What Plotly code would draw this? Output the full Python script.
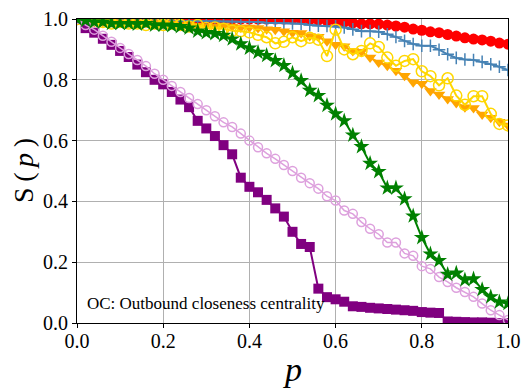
import plotly.graph_objects as go

# fração de nós removidos
p = [0.0, 0.02, 0.04, 0.06, 0.08, 0.10, 0.12, 0.14, 0.16, 0.18,
     0.20, 0.22, 0.24, 0.26, 0.28, 0.30, 0.32, 0.34, 0.36, 0.38,
     0.40, 0.42, 0.44, 0.46, 0.48, 0.50, 0.52, 0.54, 0.56, 0.58,
     0.60, 0.62, 0.64, 0.66, 0.68, 0.70, 0.72, 0.74, 0.76, 0.78,
     0.80, 0.82, 0.84, 0.86, 0.88, 0.90, 0.92, 0.94, 0.96, 0.98, 1.0]

s_red = [1.0, 1.0, 1.0, 1.0, 1.0, 1.0, 1.0, 1.0, 1.0, 1.0,
         1.0, 1.0, 1.0, 1.0, 1.0, 1.0, 1.0, 1.0, 1.0, 1.0,
         1.0, 1.0, 1.0, 1.0, 1.0, 1.0, 0.999, 0.998, 0.996, 0.995,
         0.993, 0.99, 0.987, 0.984, 0.984, 0.983, 0.98, 0.977, 0.973, 0.967,
         0.963, 0.958, 0.955, 0.949, 0.944, 0.938, 0.934, 0.931, 0.927, 0.921, 0.917]

s_blue = [1.0, 0.998, 0.997, 0.997, 0.996, 0.996, 0.996, 0.995, 0.995, 0.995,
          0.995, 0.995, 0.994, 0.994, 0.993, 0.993, 0.993, 0.992, 0.992, 0.991,
          0.991, 0.99, 0.988, 0.986, 0.986, 0.985, 0.984, 0.98, 0.978, 0.977,
          0.976, 0.972, 0.966, 0.96, 0.96, 0.958, 0.95, 0.941, 0.928, 0.918,
          0.912, 0.912, 0.899, 0.884, 0.872, 0.867, 0.865, 0.859, 0.851, 0.843, 0.832]

s_orange = [1.0, 0.992, 0.99, 0.99, 0.989, 0.989, 0.988, 0.988, 0.987, 0.987,
            0.986, 0.985, 0.98, 0.98, 0.978, 0.975, 0.975, 0.977, 0.975, 0.972,
            0.972, 0.97, 0.966, 0.965, 0.96, 0.955, 0.954, 0.944, 0.942, 0.927,
            0.915, 0.91, 0.895, 0.892, 0.873, 0.857, 0.846, 0.83, 0.813, 0.792,
            0.787, 0.763, 0.752, 0.737, 0.724, 0.71, 0.707, 0.686, 0.675, 0.662, 0.65]

s_gold = [1.0, 0.99, 0.985, 0.99, 0.985, 0.99, 0.985, 0.985, 0.98, 0.985,
          0.98, 0.985, 0.98, 0.975, 0.98, 0.97, 0.972, 0.968, 0.961, 0.96,
          0.956, 0.948, 0.94, 0.92, 0.925, 0.94, 0.927, 0.938, 0.932, 0.878,
          0.965, 0.90, 0.884, 0.895, 0.92, 0.908, 0.873, 0.846, 0.862, 0.868,
          0.828, 0.812, 0.782, 0.805, 0.748, 0.718, 0.746, 0.746, 0.688, 0.655, 0.65]

s_purple = [1.0, 0.97, 0.955, 0.935, 0.915, 0.895, 0.875, 0.85, 0.825, 0.80,
            0.785, 0.76, 0.735, 0.71, 0.665, 0.64, 0.615, 0.585, 0.555, 0.478,
            0.448, 0.43, 0.405, 0.377, 0.35, 0.30, 0.26, 0.25, 0.113, 0.085,
            0.078, 0.07, 0.055, 0.053, 0.05, 0.048, 0.046, 0.044, 0.042, 0.04,
            0.036, 0.034, 0.033, 0.005, 0.004, 0.003, 0.002, 0.002, 0.001, 0.0, 0.0]

s_plum = [1.0, 0.98, 0.965, 0.945, 0.925, 0.905, 0.885, 0.865, 0.845, 0.82,
          0.80, 0.78, 0.76, 0.74, 0.72, 0.70, 0.68, 0.66, 0.645, 0.623,
          0.60, 0.578, 0.558, 0.54, 0.52, 0.50, 0.478, 0.46, 0.442, 0.417,
          0.403, 0.37, 0.359, 0.332, 0.31, 0.292, 0.265, 0.265, 0.229, 0.221,
          0.187, 0.178, 0.151, 0.135, 0.116, 0.102, 0.086, 0.064, 0.042, 0.026, 0.01]

s_green = [1.0, 0.995, 0.99, 0.99, 0.985, 0.985, 0.985, 0.983, 0.985, 0.98,
           0.98, 0.978, 0.975, 0.97, 0.96, 0.955, 0.952, 0.946, 0.934, 0.918,
           0.904, 0.89, 0.88, 0.863, 0.847, 0.822, 0.797, 0.765, 0.748, 0.716,
           0.688, 0.665, 0.618, 0.58, 0.525, 0.498, 0.444, 0.444, 0.408, 0.352,
           0.281, 0.227, 0.205, 0.16, 0.164, 0.142, 0.145, 0.11, 0.086, 0.069, 0.064]

SERIF = 'Liberation Serif, Times New Roman, serif'

fig = go.Figure()

# (valores, cor, símbolo, tamanho, largura da linha)
series = [
    (s_red, '#FF0000', 'circle', 11, 2),
    (s_blue, '#4682B4', 'cross-thin-open', 9, 2),
    (s_orange, '#FFA500', 'triangle-down', 11, 2),
    (s_gold, '#FFD700', 'circle-open', 11, 2),
    (s_purple, '#800080', 'square', 10, 2),
    (s_plum, '#DDA0DD', 'circle-open', 9, 1.5),
    (s_green, '#008000', 'star', 12, 2),
]

for vals, cor, simb, tam, lw in series:
    mk = dict(color=cor, symbol=simb, size=tam)
    if simb.endswith('open'):
        mk['line'] = dict(color=cor, width=1.5)
    fig.add_trace(go.Scatter(x=p, y=vals, mode='lines+markers',
                             line=dict(color=cor, width=lw),
                             marker=mk, showlegend=False))

fig.add_annotation(x=0.019, y=0.063, xref='x', yref='y', xanchor='left', yanchor='middle',
                   text='OC: Outbound closeness centrality', showarrow=False,
                   font=dict(family=SERIF, size=17, color='black'))

# títulos dos eixos como anotações (posição controlada em pixels)
fig.add_annotation(x=0.5, y=0, xref='paper', yref='paper', yshift=-46,
                   xanchor='center', yanchor='middle', text='<i>p</i>', showarrow=False,
                   font=dict(family=SERIF, size=34, color='black'))
fig.add_annotation(x=0, y=0.5, xref='paper', yref='paper', xshift=-54,
                   xanchor='center', yanchor='middle',
                   text='S\u2009(\u2009<i>p</i>\u2009)', textangle=-90,
                   showarrow=False, font=dict(family=SERIF, size=28, color='black'))

eixo = dict(range=[0, 1], dtick=0.2, tickformat='.1f', showgrid=True,
            gridcolor='#b0b0b0', gridwidth=1, showline=True, linecolor='black',
            linewidth=1, mirror=True, ticks='outside', ticklen=4, tickcolor='black',
            zeroline=False, automargin=False, ticklabeloverflow='allow',
            tickfont=dict(family=SERIF, size=20, color='black'))

fig.update_xaxes(**eixo, ticklabelstandoff=-4)
fig.update_yaxes(**eixo)

fig.update_layout(width=531, height=391, margin=dict(l=69, r=31, t=11, b=76),
                  font=dict(family=SERIF), plot_bgcolor='white', paper_bgcolor='white')

fig.write_html("out.html")
